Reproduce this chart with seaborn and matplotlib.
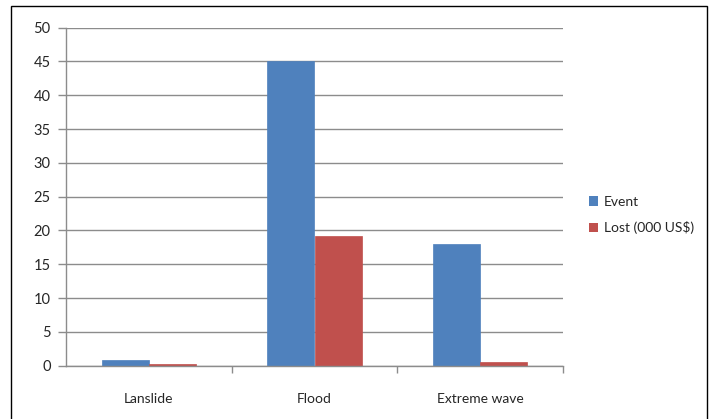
import matplotlib
matplotlib.use("Agg")
import matplotlib.pyplot as plt
from matplotlib.patches import Rectangle, Patch
import seaborn as sns
import pandas as pd

categories = ["Lanslide", "Flood", "Extreme wave"]
event = [0.85, 45, 18]
lost = [0.3, 19.2, 0.5]
series_names = ["Event", "Lost (000 US$)"]
y_ticks = [0, 5, 10, 15, 20, 25, 30, 35, 40, 45, 50]

df = pd.DataFrame({
    "category": categories * 2,
    "series": [series_names[0]] * 3 + [series_names[1]] * 3,
    "value": event + lost,
})

sns.set_style("white")
plt.rcParams["font.family"] = ["Lato", "DejaVu Sans"]

colors = ["#4F81BD", "#C0504D"]

fig = plt.figure(figsize=(7.11, 4.19), dpi=100)
ax = fig.add_axes([66 / 711, 1 - 365.7 / 419, (563 - 66) / 711, (365.7 - 27.7) / 419])

sns.barplot(data=df, x="category", y="value", hue="series", order=categories,
            hue_order=series_names, palette=colors, width=0.57, saturation=1,
            linewidth=0, legend=False, ax=ax)
for bar in ax.patches:
    bar.set_edgecolor(bar.get_facecolor())
    bar.set_linewidth(0.5)

ax.set_xlim(-0.5, 2.5)
ax.set_ylim(0, 50)
ax.set_yticks(y_ticks)
ax.yaxis.grid(True, color="#8c8c8c", linewidth=1)
ax.set_axisbelow(True)
ax.set_xlabel("")
ax.set_ylabel("")

for side in ["top", "right"]:
    ax.spines[side].set_visible(False)
for side in ["left", "bottom"]:
    ax.spines[side].set_color("#8c8c8c")
    ax.spines[side].set_linewidth(1)

ax.tick_params(axis="y", direction="out", length=6, color="#8c8c8c", width=1,
               labelsize=10.5, pad=5, left=True)
ax.tick_params(axis="x", which="major", length=0, labelsize=10, pad=20)
ax.set_xticks([0.5, 1.5, 2.5], minor=True)
ax.tick_params(axis="x", which="minor", direction="out", length=5,
               color="#8c8c8c", width=1, bottom=True)

handles = [Patch(facecolor=c, edgecolor="none") for c in colors]
fig.legend(handles, series_names, loc="center left",
           bbox_to_anchor=(576 / 711, 1 - 215 / 419), frameon=False,
           fontsize=10, handlelength=0.7, handleheight=0.7, handletextpad=0.4,
           labelspacing=1.0)

fig.patches.append(Rectangle((11 / 711, -0.05), (707 - 11) / 711, 1.05 - 6 / 419,
                             transform=fig.transFigure, fill=False,
                             edgecolor="black", linewidth=1))

fig.savefig("out.png", dpi=100, facecolor="white")
